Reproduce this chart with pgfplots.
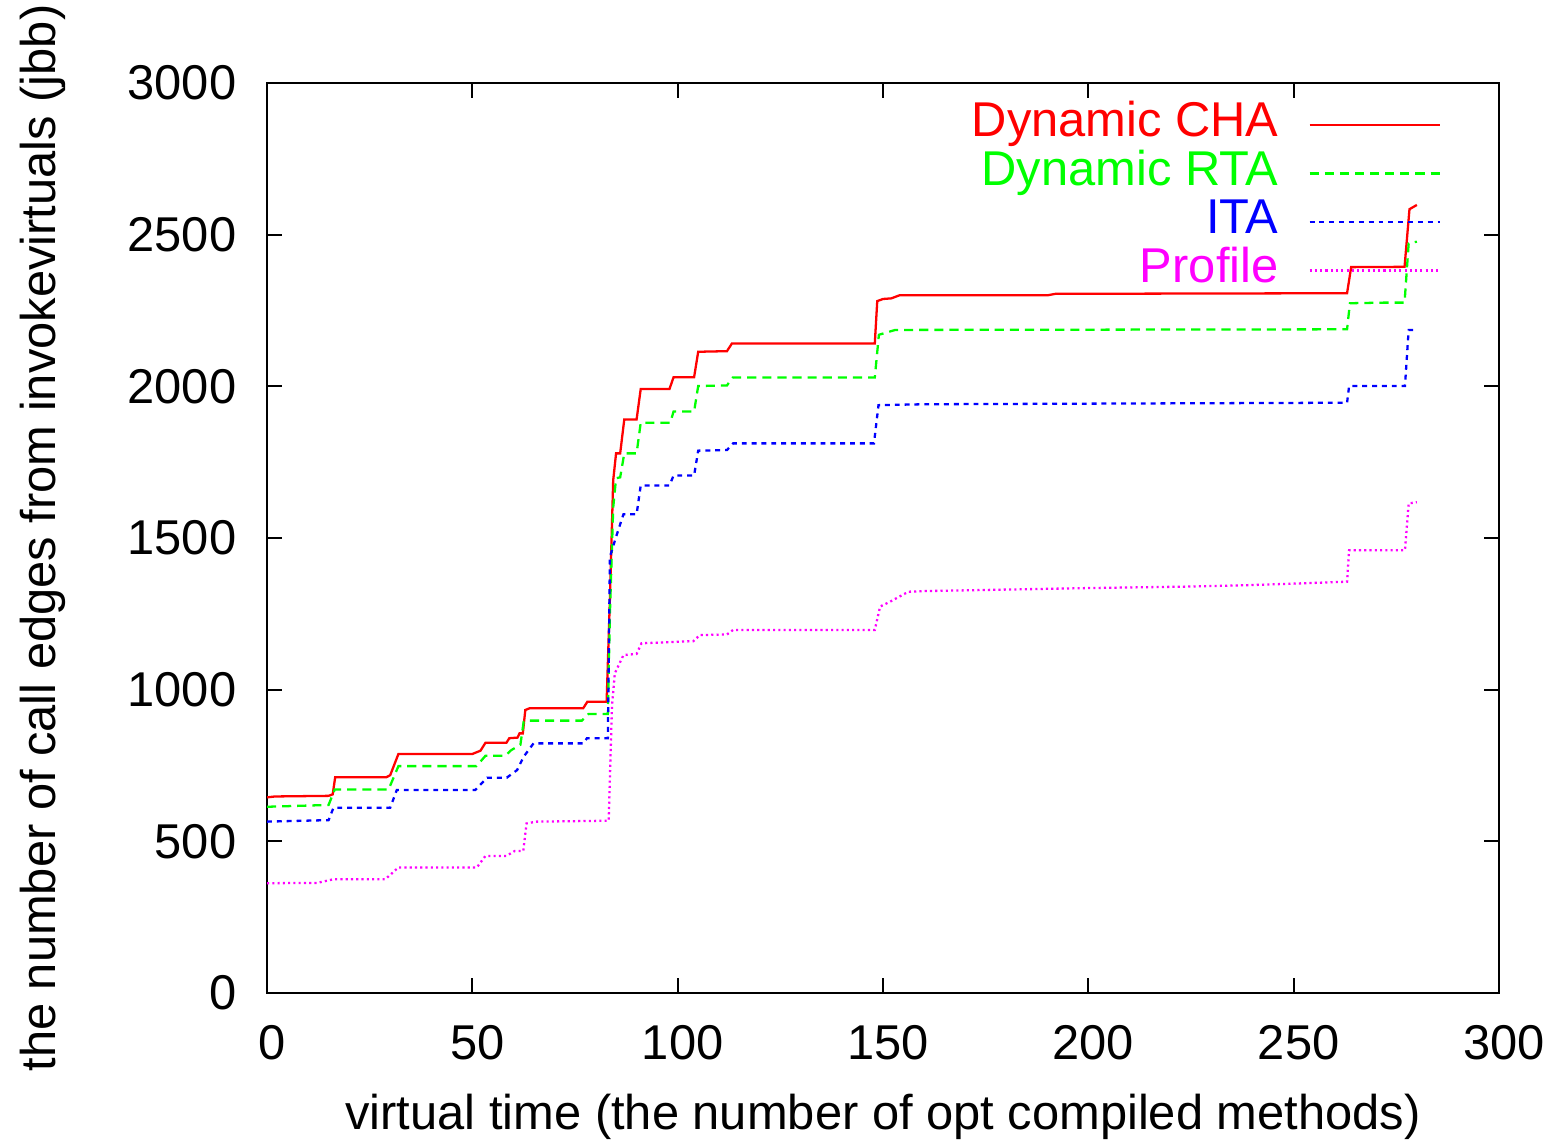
\documentclass[border=0pt]{standalone}
\usepackage{fontspec}
\setmainfont{Liberation Sans}
\usepackage{pgfplots}
\pgfplotsset{compat=1.18}

\definecolor{gpred}{rgb}{1,0,0}
\definecolor{gpgreen}{rgb}{0,1,0}
\definecolor{gpblue}{rgb}{0,0,1}
\definecolor{gpmagenta}{rgb}{1,0,1}

\newcommand{\chartfont}{\fontsize{13.9}{16.5}\selectfont}

\begin{document}
\begin{tikzpicture}
\begin{axis}[
    name=ax,
    scale only axis,
    width=12.32cm, height=9.10cm,
    xmin=0, xmax=300, ymin=0, ymax=3000,
    xtick={0,50,...,300}, ytick={0,500,...,3000},
    tick align=inside, major tick length=0.15cm,
    axis line style={line width=0.6pt}, every tick/.style={black, line width=0.6pt},
    /pgf/number format/assume math mode=true,
    /pgf/number format/1000 sep={},
    scaled y ticks=false,
    tick label style={font=\chartfont, inner sep=0pt},
    xticklabel style={anchor=base, yshift=-0.66cm, xshift=0.05cm},
    yticklabel style={anchor=east, xshift=-0.30cm},
    label style={font=\chartfont, inner sep=0pt},
    xlabel={virtual time (the number of opt compiled methods)},
    ylabel={the number of call edges from invokevirtuals (jbb)},
    xlabel style={at={(axis description cs:0.5,-0.1505)}, anchor=base},
    ylabel style={at={(axis description cs:-0.172,0.5)}, anchor=base, rotate=0},
    legend image code/.code={\draw[#1] (0cm,0cm) -- (1.3cm,0cm);},
    legend plot pos=right,
    legend cell align=right,
    legend style={at={(rel axis cs:1,1)}, xshift=-0.47cm, yshift=-0.10cm,
        anchor=north east, draw=none, fill=none, font=\chartfont,
        row sep=0pt,
        nodes={inner sep=0pt, text height=0.36cm, text depth=0.125cm},
        /tikz/every odd column/.append style={column sep=0.3cm}},
    every axis plot/.append style={line width=0.65pt},
]
\addplot[gpred] coordinates {
(0,645) (2,648) (15,650) (16,655) (16.6,711) (29,711) (30,718) (32,788) (50,788)
(52,799) (53.2,825) (58.3,825) (59,840) (61,842) (61.5,856) (62.3,856) (62.9,933)
(64,939) (77,939) (78,960) (82.7,960) (83.5,1300) (84.3,1690) (85,1779) (86,1779)
(87,1891) (90,1891) (91,1991) (98,1991) (99,2030) (104,2030) (105,2114) (112,2116)
(113.2,2141) (148,2141) (148.6,2281) (150,2288) (152,2290) (154,2300) (190,2300)
(192,2305) (263,2307) (264,2393) (277,2394) (278.2,2584) (280,2598)
};
\addlegendentry{\textcolor{gpred}{Dynamic CHA}}
\addplot[gpgreen, dash pattern=on 2.6pt off 1.7pt] coordinates {
(0,614) (15,620) (16.5,671) (29.6,671) (32,748) (51,748) (53.2,782) (58,782)
(59.5,801) (61.7,818) (62.5,894) (64,898) (76.7,898) (78.3,920) (83,920)
(83.5,1250) (84.3,1600) (85,1697) (86,1700) (87,1779) (90,1779) (91,1880)
(98.2,1880) (99,1917) (104,1917) (105,2001) (112,2003) (113.4,2029) (148,2029)
(149,2170) (151,2178) (153,2186) (263,2188) (263.7,2274) (272,2276) (277,2276)
(278,2471) (280,2477)
};
\addlegendentry{\textcolor{gpgreen}{Dynamic RTA}}
\addplot[gpblue, dash pattern=on 1.4pt off 1.4pt] coordinates {
(0,565) (15,570) (16.2,611) (30,611) (31.6,669) (50.7,669) (53.6,710) (58.4,710)
(60.9,735) (62.5,779) (64.9,823) (77.1,823) (77.9,840) (83,840) (83.5,1438)
(85,1504) (86.8,1578) (90,1578) (91,1673) (98,1673) (99,1706) (104,1706) (105,1788)
(112,1790) (113.5,1812) (147.8,1812) (148.9,1938) (160,1941) (263,1946)
(263.5,2001) (277.1,2001) (278,2186) (280,2186)
};
\addlegendentry{\textcolor{gpblue}{ITA}}
\addplot[gpmagenta, dash pattern=on 0.6pt off 0.9pt] coordinates {
(0,362) (12.2,363) (16.2,375) (28.8,375) (32,414) (51.1,414) (53.2,452) (58.3,452)
(60.3,468) (62.4,468) (63.2,559) (65.6,565) (83.2,568) (84,944) (84.7,1054)
(86.8,1114) (90,1118) (91.2,1153) (103.8,1160) (105.4,1180) (112,1182) (113.5,1197)
(148,1197) (149.3,1274) (151.7,1290) (156.2,1323) (160,1325) (200,1335) (225,1340)
(240,1345) (255,1352) (263,1356) (263.5,1460) (277.1,1460) (278,1614) (280,1618)
};
\addlegendentry{\textcolor{gpmagenta}{Profile}}
\end{axis}
\path (ax.south west) ++(-2.67cm,-1.47cm) coordinate (bl);
\path (ax.north east) ++(0.54cm,0.83cm) coordinate (tr);
\path (bl) rectangle (tr);
\end{tikzpicture}
\end{document}
